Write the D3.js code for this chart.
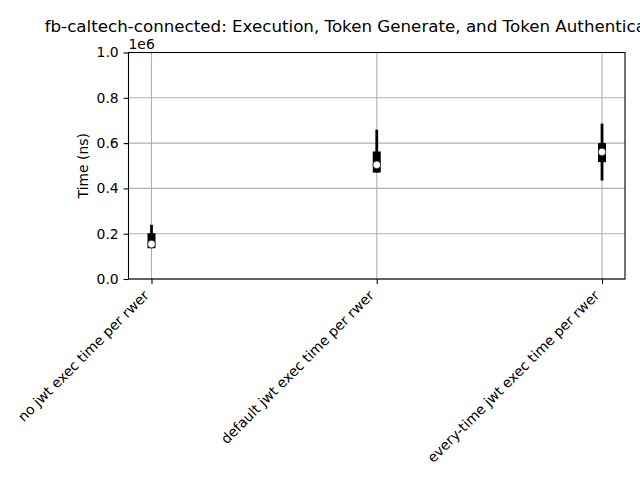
<!DOCTYPE html>
<html><head><meta charset="utf-8">
<script src="https://cdn.jsdelivr.net/npm/d3@7"></script>
<style>body{margin:0;background:#fff}svg{display:block}text{font-family:"DejaVu Sans",sans-serif}</style>
</head><body>
<svg id="c" width="640" height="480"></svg>
<script>
const title = "fb-caltech-connected: Execution, Token Generate, and Token Authenticate Time";
const yLabel = "Time (ns)";
const categories = ["no jwt exec time per rwer", "default jwt exec time per rwer", "every-time jwt exec time per rwer"];
const whiskerLow  = [0.136e6, 0.470e6, 0.435e6];
const q1          = [0.136e6, 0.470e6, 0.516e6];
const medians     = [0.154e6, 0.504e6, 0.561e6];
const q3          = [0.202e6, 0.563e6, 0.600e6];
const whiskerHigh = [0.239e6, 0.659e6, 0.686e6];
const yTicks = [0, 0.2e6, 0.4e6, 0.6e6, 0.8e6, 1.0e6];

const L = 128.5, R = 625, T = 52.5, B = 279;
const svg = d3.select("#c");
const x = d3.scaleLinear().domain([-0.102, 2.102]).range([L, R]);
const y = d3.scaleLinear().domain([0, 1e6]).range([B, T]);
const idx = categories.map((_, i) => i);
const fs = 13.9;

// grid
const g = svg.append("g");
g.selectAll(".gx").data(idx).join("line")
  .attr("x1", d => x(d)).attr("x2", d => x(d)).attr("y1", T).attr("y2", B)
  .attr("stroke", "#b0b0b0").attr("stroke-width", 1.1);
g.selectAll(".gy").data(yTicks).join("line")
  .attr("x1", L).attr("x2", R).attr("y1", d => y(d)).attr("y2", d => y(d))
  .attr("stroke", "#b0b0b0").attr("stroke-width", 1.1);

// axes
const yAxis = d3.axisLeft(y).tickValues(yTicks).tickFormat(d => (d / 1e6).toFixed(1)).tickSize(4.9).tickPadding(4.9);
const ya = svg.append("g").attr("transform", `translate(${L},0)`).call(yAxis);
ya.select(".domain").remove();
ya.selectAll("text").attr("font-size", fs).attr("fill", "#000").attr("font-family", "DejaVu Sans");
ya.selectAll("line").attr("stroke", "#000").attr("stroke-width", 1.1);

const xAxis = d3.axisBottom(x).tickValues(idx).tickFormat(i => categories[i]).tickSize(4.9).tickPadding(0);
const xa = svg.append("g").attr("transform", `translate(0,${B})`).call(xAxis);
xa.select(".domain").remove();
xa.selectAll("line").attr("stroke", "#000").attr("stroke-width", 1.1);
xa.selectAll("text")
  .attr("font-size", fs).attr("fill", "#000").attr("font-family", "DejaVu Sans")
  .attr("text-anchor", "end").attr("dy", null).attr("y", 0)
  .attr("transform", "translate(-2.3,17.5) rotate(-45)");

// marks
const m = svg.append("g");
m.selectAll(".wh").data(idx).join("line")
  .attr("x1", d => x(d)).attr("x2", d => x(d))
  .attr("y1", d => y(whiskerLow[d])).attr("y2", d => y(whiskerHigh[d]))
  .attr("stroke", "#000").attr("stroke-width", 2.8);
m.selectAll(".bx").data(idx).join("line")
  .attr("x1", d => x(d)).attr("x2", d => x(d))
  .attr("y1", d => y(q1[d])).attr("y2", d => y(q3[d]))
  .attr("stroke", "#000").attr("stroke-width", 8);
m.selectAll(".md").data(idx).join("circle")
  .attr("cx", d => x(d)).attr("cy", d => y(medians[d])).attr("r", 3.8)
  .attr("fill", "#fff").attr("stroke", "#000").attr("stroke-width", 0.6);

// spines
svg.append("rect").attr("x", L).attr("y", T).attr("width", R - L).attr("height", B - T)
  .attr("fill", "none").attr("stroke", "#000").attr("stroke-width", 1.1);

// offset text
svg.append("text").attr("x", L).attr("y", T - 4).attr("font-size", fs).text("1e6");

// y label
svg.append("text").attr("transform", `translate(88,${(T + B) / 2}) rotate(-90)`)
  .attr("text-anchor", "middle").attr("font-size", fs).text(yLabel);

// title
svg.append("text").attr("x", (L + R) / 2).attr("y", 31.5).attr("text-anchor", "middle")
  .attr("font-size", 16.7).text(title);
</script>
</body></html>
